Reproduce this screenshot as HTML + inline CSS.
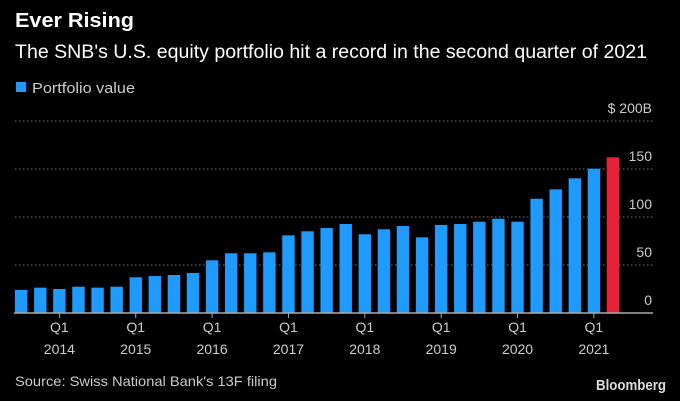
<!DOCTYPE html>
<html><head><meta charset="utf-8"><style>
html,body{margin:0;padding:0;background:#000;}
svg{display:block;font-family:"Liberation Sans",sans-serif;}
</style></head><body>
<svg id="chart" width="680" height="401" viewBox="0 0 680 401">
<rect width="680" height="401" fill="#000"/>
<text x="15" y="27" fill="#fff" font-size="20" font-weight="bold" textLength="119" lengthAdjust="spacingAndGlyphs">Ever Rising</text>
<text x="15" y="58" fill="#fff" font-size="19" textLength="632" lengthAdjust="spacingAndGlyphs">The SNB's U.S. equity portfolio hit a record in the second quarter of 2021</text>
<rect x="16" y="82" width="10" height="10" fill="#1f9bff"/>
<text x="32" y="93" fill="#ccc" font-size="15" textLength="103" lengthAdjust="spacingAndGlyphs">Portfolio value</text>
<g id="grid"></g><g id="bars"></g><g id="axes"></g>
<text x="15" y="386" fill="#ccc" font-size="14" textLength="262" lengthAdjust="spacingAndGlyphs">Source: Swiss National Bank's 13F filing</text>
<text x="666" y="390" text-anchor="end" fill="#ddd" font-size="15" font-weight="bold" textLength="70" lengthAdjust="spacingAndGlyphs">Bloomberg</text>
</svg>
<script>
const values = [24,26.4,25,27.4,26.4,27.4,37.2,38.5,39.6,41.7,54.9,62.2,62.2,63.2,80.9,85.1,88.5,92.7,82,87.2,90.6,78.8,91.7,92.7,95.1,98.2,95.1,119,128.8,140.3,150.3,162.2];
const yTicks = [0,50,100,150,200];
const yTickLabels = ["0","50","100","150","$ 200B"];
const xLabelIdx = [2,6,10,14,18,22,26,30];
const xLabelYears = ["2014","2015","2016","2017","2018","2019","2020","2021"];
const NS="http://www.w3.org/2000/svg";
const y0=313, pxPer=48/50, left=15, pitch=19.09, bw=12.4;
const yS=v=>y0-v*pxPer;
const xS=i=>left+i*pitch;
function mk(t,a,p){const e=document.createElementNS(NS,t);for(const k in a)e.setAttribute(k,a[k]);p.appendChild(e);return e;}
const grid=document.getElementById('grid'),bars=document.getElementById('bars'),axes=document.getElementById('axes');
yTicks.forEach((v,i)=>{
  if(v>0){const l=mk('line',{x1:15,x2:653,y1:yS(v),y2:yS(v),stroke:'#777','stroke-dasharray':'1.5 2.5','stroke-width':1},grid);
  
  }
  const t=mk('text',{x:652,y:yS(v)-8,'text-anchor':'end',fill:'#ccc','font-size':14},axes);
  t.textContent=yTickLabels[i];
  
  
});
values.forEach((v,i)=>{
  const r=mk('rect',{x:xS(i),y:yS(v),width:bw,height:y0-yS(v),fill:i===values.length-1?'#e8203a':'#1f9bff'},bars);
  
  
});
const ax=mk('line',{x1:14,x2:653,y1:y0,y2:y0,stroke:'#aaa','stroke-width':1.5},axes);


xLabelIdx.forEach((idx,i)=>{
  const cx=xS(idx)+bw/2;
  const tk=mk('line',{x1:cx,x2:cx,y1:y0,y2:y0+5,stroke:'#aaa'},axes);
  
  
  const q=mk('text',{x:cx,y:332,'text-anchor':'middle',fill:'#ccc','font-size':14},axes);
  q.textContent='Q1';
  
  
  const yr=mk('text',{x:cx,y:354,'text-anchor':'middle',fill:'#ccc','font-size':14},axes);
  yr.textContent=xLabelYears[i];
  
  
});
</script>
</body></html>
